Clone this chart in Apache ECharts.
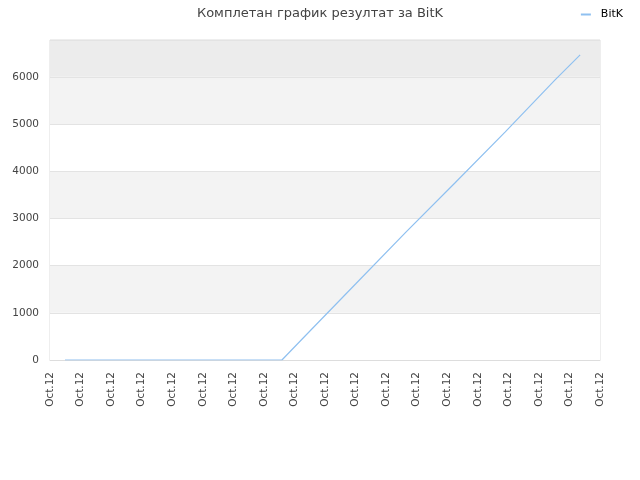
<!DOCTYPE html>
<html>
<head>
<meta charset="utf-8">
<title>Комплетан график резултат за BitK</title>
<script src="https://cdn.jsdelivr.net/npm/echarts@6/dist/echarts.min.js"></script>
<style>
    html, body, #main {
        width: 100%;
        height: 100%;
        margin: 0;
    }
</style>
</head>
<body>
<div id="main"></div>
<script>

// position along the time axis (hours on Oct.12) and score at that moment
let timePoints = [0.49, 2.85, 3.63, 4.29, 4.78, 6.9, 7.59, 8.38, 10.0, 11.64, 13.25, 14.9, 16.53, 17.35];
let scores     = [0, 0, 0, 0, 0, 0, 0, 530, 1610, 2705, 3750, 4835, 5935, 6466];
let tickLabel  = 'Oct.12';
let seriesName = 'BitK';

let points = timePoints.map(function(t, i) { return [t, scores[i]]; });

var myChart = echarts.init(document.getElementById('main'));

option = {
    animation: false,
    title: {
        text: 'Комплетан график резултат за BitK',
        left: 'center',
        top: 2,
        textStyle: {
            fontFamily: 'DejaVu Sans',
            fontSize: 13,
            fontWeight: 'normal',
            color: '#444'
        }
    },
    legend: {
        right: 12,
        top: 4,
        itemWidth: 10,
        itemHeight: 2,
        icon: 'rect',
        textStyle: { fontFamily: 'DejaVu Sans', fontSize: 11, color: '#000', padding: [0, 0, 0, 5] },
        data: [seriesName]
    },
    grid: {
        left: 50,
        right: 40,
        top: 40,
        bottom: 120,
        show: true,
        borderColor: '#dddddd',
        borderWidth: 1
    },
    xAxis: {
        type: 'value',
        min: 0,
        max: 18,
        interval: 1,
        axisLine: { show: true, lineStyle: { color: '#dddddd' } },
        axisTick: { show: false },
        splitLine: { show: false },
        axisLabel: {
            rotate: 90,
            margin: 12,
            fontFamily: 'DejaVu Sans',
            fontSize: 10.5,
            color: '#444',
            formatter: function() { return tickLabel; }
        }
    },
    yAxis: {
        type: 'value',
        min: 0,
        max: 6780,
        interval: 1000,
        axisLine: { show: false },
        axisTick: { show: false },
        axisLabel: {
            showMaxLabel: false,
            margin: 11,
            fontFamily: 'DejaVu Sans',
            fontSize: 10.5,
            color: '#444',
            formatter: function(v) { return String(v); }
        },
        splitLine: { show: true, lineStyle: { color: '#e3e3e3' } },
        splitArea: {
            show: true,
            areaStyle: {
                color: ['#ffffff', '#f3f3f3', '#ffffff', '#f3f3f3', '#ffffff', '#f3f3f3', '#ececec']
            }
        }
    },
    series: [
        {
            name: seriesName,
            type: 'line',
            data: points,
            showSymbol: false,
            lineStyle: { color: '#8fc0f0', width: 1.2 },
            itemStyle: { color: '#8fc0f0' }
        }
    ]
};
myChart.setOption(option);

</script>
</body>
</html>
